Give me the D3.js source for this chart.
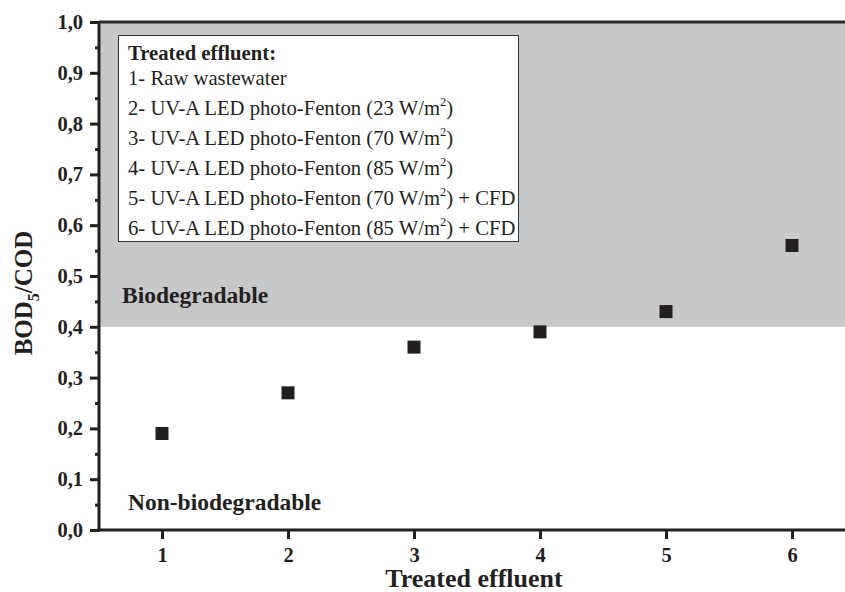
<!DOCTYPE html>
<html>
<head>
<meta charset="utf-8">
<script src="https://cdn.jsdelivr.net/npm/d3@7"></script>
<style>
  body { margin: 0; background: #fff; }
  svg { display: block; font-family: "Liberation Serif", "Times New Roman", serif; }
</style>
</head>
<body>
<script>
//-----------------Data----------------
const effluents = [1, 2, 3, 4, 5, 6];
const ratios = [0.19, 0.27, 0.36, 0.39, 0.43, 0.56];
const yTicks = [0, 0.1, 0.2, 0.3, 0.4, 0.5, 0.6, 0.7, 0.8, 0.9, 1.0];
const threshold = 0.4;
const legendTitle = "Treated effluent:";
const legendItems = [
  ["1- Raw wastewater", "", ""],
  ["2- UV-A LED photo-Fenton (23 W/m", "2", ")"],
  ["3- UV-A LED photo-Fenton (70 W/m", "2", ")"],
  ["4- UV-A LED photo-Fenton (85 W/m", "2", ")"],
  ["5- UV-A LED photo-Fenton (70 W/m", "2", ") + CFD"],
  ["6- UV-A LED photo-Fenton (85 W/m", "2", ") + CFD"],
];

//-----------------Svg + scales----------------
const width = 845;
const height = 592;
const plotLeft = 99, plotRight = 855, plotTop = 22, plotBottom = 530;
const ink = "#231f20";

const svg = d3.select("body").append("svg").attr("width", width).attr("height", height);

const x = d3.scaleLinear().domain([0.5, 6.5]).range([plotLeft, plotRight]);
const y = d3.scaleLinear().domain([0, 1]).range([plotBottom, plotTop]);

// gray "biodegradable" zone
svg.append("rect")
  .attr("x", plotLeft)
  .attr("y", y(1))
  .attr("width", plotRight - plotLeft)
  .attr("height", y(threshold) - y(1))
  .attr("fill", "#c7c8ca");

// top frame line
svg.append("line")
  .attr("x1", plotLeft).attr("x2", plotRight)
  .attr("y1", y(1)).attr("y2", y(1))
  .attr("stroke", "#2b2b2b").attr("stroke-width", 3);

//-----------------Axes----------------
const yMinor = d3.range(0.05, 1, 0.1);
svg.append("g")
  .attr("transform", `translate(${plotLeft},0)`)
  .call(d3.axisLeft(y).tickValues(yMinor).tickSize(4).tickFormat(""))
  .call((g) => g.select(".domain").remove())
  .call((g) => g.selectAll("line").attr("stroke", ink).attr("stroke-width", 3));

const yAxis = svg.append("g")
  .attr("transform", `translate(${plotLeft},0)`)
  .call(d3.axisLeft(y).tickValues(yTicks).tickSize(9).tickPadding(7).tickFormat((d) => d3.format(".1f")(d).replace(".", ",")));

const xAxis = svg.append("g")
  .attr("transform", `translate(0,${plotBottom})`)
  .call(d3.axisBottom(x).tickValues(effluents).tickSize(9).tickPadding(8).tickFormat(d3.format("d")));

[yAxis, xAxis].forEach((g) => {
  g.select(".domain").attr("stroke", ink).attr("stroke-width", 3);
  g.selectAll(".tick line").attr("stroke", ink).attr("stroke-width", 3);
  g.selectAll("text")
    .attr("fill", ink)
    .style("font-family", "Liberation Serif")
    .style("font-size", "20.5px")
    .style("font-weight", "bold");
});
// plain domain lines, no outer ticks
yAxis.select(".domain").attr("d", `M0,${plotBottom + 1.5}V${plotTop}`);
xAxis.select(".domain").attr("d", `M${plotLeft - 1.5},0H${plotRight}`);

// axis titles
svg.append("text")
  .attr("x", x(3.5) - 3)
  .attr("y", 587)
  .attr("text-anchor", "middle")
  .attr("fill", ink)
  .style("font-size", "26px")
  .style("font-weight", "bold")
  .text("Treated effluent");

const yTitle = svg.append("text")
  .attr("transform", `translate(32,${y(0.5) + 17}) rotate(-90)`)
  .attr("text-anchor", "middle")
  .attr("fill", ink)
  .style("font-size", "25px")
  .style("font-weight", "bold");
yTitle.append("tspan").text("BOD");
yTitle.append("tspan").attr("dy", 7).style("font-size", "16px").text("5");
yTitle.append("tspan").attr("dy", -7).text("/COD");

//-----------------Zone labels----------------
svg.append("text")
  .attr("x", 122).attr("y", 303)
  .attr("fill", ink)
  .style("font-size", "23.5px").style("font-weight", "bold")
  .text("Biodegradable");

svg.append("text")
  .attr("x", 128).attr("y", 510)
  .attr("fill", ink)
  .style("font-size", "23.5px").style("font-weight", "bold")
  .text("Non-biodegradable");

//-----------------Points----------------
const side = 13;
svg.selectAll(".point")
  .data(effluents)
  .enter()
  .append("rect")
  .attr("class", "point")
  .attr("x", (d) => x(d) - side / 2)
  .attr("y", (d, i) => y(ratios[i]) - side / 2)
  .attr("width", side)
  .attr("height", side)
  .attr("fill", ink);

//-----------------Legend----------------
const legend = svg.append("g");
legend.append("rect")
  .attr("x", 118.5).attr("y", 35.5)
  .attr("width", 400).attr("height", 206)
  .attr("fill", "#fff")
  .attr("stroke", "#333").attr("stroke-width", 1);

legend.append("text")
  .attr("x", 128).attr("y", 60)
  .attr("fill", ink)
  .style("font-size", "20.7px").style("font-weight", "bold")
  .text(legendTitle);

const rowY = [85, 115, 145, 175, 205, 235];
legendItems.forEach((item, i) => {
  const t = legend.append("text")
    .attr("x", 128).attr("y", rowY[i])
    .attr("fill", ink)
    .style("font-size", "20.7px");
  t.append("tspan").text(item[0]);
  if (item[1]) {
    t.append("tspan").attr("dy", -9).style("font-size", "12.5px").text(item[1]);
    t.append("tspan").attr("dy", 9).text(item[2]);
  }
});
</script>
</body>
</html>
